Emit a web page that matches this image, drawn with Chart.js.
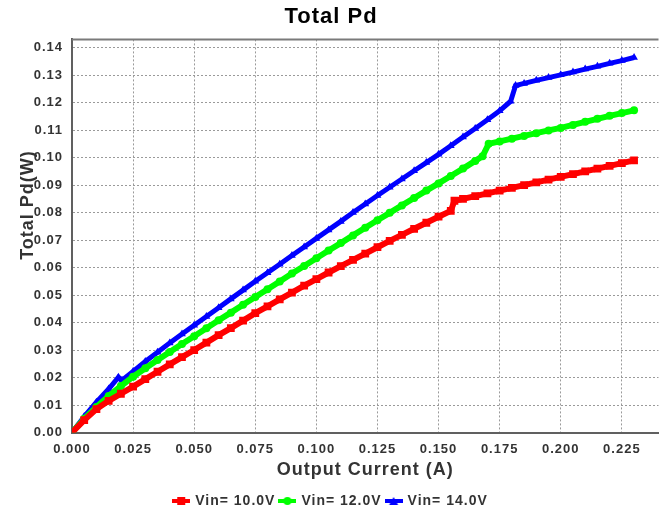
<!DOCTYPE html>
<html>
<head>
<meta charset="utf-8">
<script src="https://cdn.jsdelivr.net/npm/chart.js@4.4.1/dist/chart.umd.min.js"></script>
<style>
  html, body { margin: 0; padding: 0; background: #fff; }
  #wrap { width: 664px; height: 512px; }
</style>
</head>
<body>
<div id="wrap"><canvas id="pd-chart" width="664" height="512"></canvas></div>
<script>
// Output current (A) and total dissipation (W)
const current10 = [0, 0.005, 0.010, 0.015, 0.020, 0.025, 0.030, 0.035, 0.040, 0.045, 0.050, 0.055,
  0.060, 0.065, 0.070, 0.075, 0.080, 0.085, 0.090, 0.095, 0.100, 0.105, 0.110, 0.115, 0.120, 0.125,
  0.130, 0.135, 0.140, 0.145, 0.150, 0.155, 0.1565, 0.160, 0.165, 0.170, 0.175, 0.180, 0.185, 0.190,
  0.195, 0.200, 0.205, 0.210, 0.215, 0.220, 0.225, 0.230];
const pd10 = [0, 0.0045, 0.0085, 0.0115, 0.0141, 0.0167, 0.0194, 0.0221, 0.0248, 0.0274, 0.0300, 0.0327,
  0.0354, 0.0380, 0.0407, 0.0434, 0.0459, 0.0484, 0.0509, 0.0534, 0.0558, 0.0582, 0.0605, 0.0628, 0.0651, 0.0674,
  0.0697, 0.0719, 0.0741, 0.0763, 0.0785, 0.0806, 0.0843, 0.0850, 0.0860, 0.0870, 0.0880, 0.0890, 0.0900, 0.0910,
  0.0920, 0.0930, 0.0940, 0.0950, 0.0960, 0.0970, 0.0980, 0.0990];

const current12 = [0, 0.005, 0.010, 0.015, 0.020, 0.025, 0.030, 0.035, 0.040, 0.045, 0.050, 0.055,
  0.060, 0.065, 0.070, 0.075, 0.080, 0.085, 0.090, 0.095, 0.100, 0.105, 0.110, 0.115, 0.120, 0.125,
  0.130, 0.135, 0.140, 0.145, 0.150, 0.155, 0.160, 0.165, 0.168, 0.1705, 0.175, 0.180, 0.185, 0.190,
  0.195, 0.200, 0.205, 0.210, 0.215, 0.220, 0.225, 0.230];
const pd12 = [0, 0.0050, 0.0093, 0.0133, 0.0169, 0.0203, 0.0234, 0.0264, 0.0293, 0.0322, 0.0350, 0.0379,
  0.0408, 0.0436, 0.0465, 0.0493, 0.0521, 0.0549, 0.0578, 0.0606, 0.0634, 0.0662, 0.0689, 0.0717, 0.0745, 0.0772,
  0.0799, 0.0826, 0.0853, 0.0880, 0.0906, 0.0933, 0.0960, 0.0988, 0.1005, 0.1050, 0.1059, 0.1069, 0.1079, 0.1089,
  0.1099, 0.1108, 0.1119, 0.1130, 0.1141, 0.1152, 0.1162, 0.1172];

const current14 = [0, 0.005, 0.010, 0.015, 0.019, 0.0205, 0.025, 0.030, 0.035, 0.040, 0.045, 0.050, 0.055,
  0.060, 0.065, 0.070, 0.075, 0.080, 0.085, 0.090, 0.095, 0.100, 0.105, 0.110, 0.115, 0.120, 0.125,
  0.130, 0.135, 0.140, 0.145, 0.150, 0.155, 0.160, 0.165, 0.170, 0.175, 0.1795, 0.1815, 0.185, 0.190,
  0.195, 0.200, 0.205, 0.210, 0.215, 0.220, 0.225, 0.230];
const pd14 = [0, 0.0058, 0.0110, 0.0158, 0.0201, 0.0190, 0.0222, 0.0258, 0.0292, 0.0326, 0.0358, 0.0390, 0.0422,
  0.0454, 0.0486, 0.0518, 0.0550, 0.0581, 0.0612, 0.0644, 0.0675, 0.0706, 0.0737, 0.0768, 0.0800, 0.0831, 0.0862,
  0.0892, 0.0922, 0.0952, 0.0982, 0.1012, 0.1043, 0.1075, 0.1106, 0.1138, 0.1170, 0.1205, 0.1262, 0.1270, 0.1281,
  0.1291, 0.1301, 0.1311, 0.1322, 0.1332, 0.1343, 0.1353, 0.1364];

const seriesNames = ['Vin= 10.0V', 'Vin= 12.0V', 'Vin= 14.0V'];

const FONT = '"Liberation Sans", Arial, sans-serif';

const toPoints = (xs, ys) => xs.map((x, i) => ({ x: x, y: ys[i] }));

// small line+marker swatch for the legend
function legendSwatch(color, shape) {
  const c = document.createElement('canvas');
  c.width = 18; c.height = 10;
  const g = c.getContext('2d');
  g.fillStyle = color;
  g.fillRect(0, 3, 18, 4);
  g.beginPath();
  if (shape === 'rect') g.rect(5, 1, 8, 8);
  else if (shape === 'circle') g.arc(9, 5, 4, 0, Math.PI * 2);
  else { g.moveTo(9, 1); g.lineTo(13.5, 9); g.lineTo(4.5, 9); g.closePath(); }
  g.fill();
  return c;
}

const letterSpacing = {
  id: 'letterSpacing',
  beforeUpdate(chart) { chart.ctx.letterSpacing = '1px'; },
  beforeDraw(chart) { chart.ctx.letterSpacing = '1px'; }
};

const topFrame = {
  id: 'topFrame',
  beforeDatasetsDraw(chart) {
    const { ctx, chartArea } = chart;
    ctx.save();
    ctx.strokeStyle = '#7a7a7a';
    ctx.lineWidth = 2;
    ctx.beginPath();
    ctx.moveTo(chartArea.left, chartArea.top);
    ctx.lineTo(chartArea.right, chartArea.top);
    ctx.stroke();
    ctx.restore();
  }
};

// y axis title sits a bit above the middle of the axis in the original
const yTitle = {
  id: 'yTitle',
  afterDraw(chart, args, opts) {
    const { ctx } = chart;
    ctx.save();
    ctx.translate(opts.x, opts.y);
    ctx.rotate(-Math.PI / 2);
    ctx.font = 'bold 18px ' + FONT;
    ctx.fillStyle = '#333';
    ctx.textAlign = 'center';
    ctx.textBaseline = 'middle';
    ctx.letterSpacing = '1px';
    ctx.fillText(opts.text, 0, 0);
    ctx.restore();
  }
};

const swatches = [
  legendSwatch('#ff0000', 'rect'),
  legendSwatch('#00ff00', 'circle'),
  legendSwatch('#0000ff', 'triangle')
];

const ctx = document.getElementById('pd-chart').getContext('2d');
new Chart(ctx, {
  type: 'line',
  data: {
    datasets: [
      {
        label: seriesNames[0],
        data: toPoints(current10, pd10),
        borderColor: '#ff0000', backgroundColor: '#ff0000',
        borderWidth: 6, pointStyle: 'rect', pointRadius: 5.5, pointBorderWidth: 0
      },
      {
        label: seriesNames[1],
        data: toPoints(current12, pd12),
        borderColor: '#00ff00', backgroundColor: '#00ff00',
        borderWidth: 6, pointStyle: 'circle', pointRadius: 4, pointBorderWidth: 0
      },
      {
        label: seriesNames[2],
        data: toPoints(current14, pd14),
        borderColor: '#0000ff', backgroundColor: '#0000ff',
        borderWidth: 5, pointStyle: 'triangle', pointRadius: 4.5, pointBorderWidth: 0
      }
    ]
  },
  options: {
    responsive: false,
    animation: false,
    layout: { padding: { left: 0, right: 2, top: 0, bottom: -6 } },
    plugins: {
      title: {
        display: true,
        text: 'Total Pd',
        color: '#000',
        font: { family: FONT, size: 22, weight: 'bold' },
        padding: { top: 4, bottom: 9 }
      },
      legend: {
        position: 'bottom',
        labels: {
          usePointStyle: true,
          pointStyleWidth: 14,
          boxHeight: 10,
          padding: 5,
          color: '#333',
          font: { family: FONT, size: 14, weight: 'bold' },
          generateLabels(chart) {
            const items = Chart.defaults.plugins.legend.labels.generateLabels(chart);
            items.forEach((it, i) => { it.pointStyle = swatches[i]; });
            return items;
          }
        }
      },
      yTitle: { text: 'Total Pd(W)', x: 28, y: 205 },
      tooltip: { enabled: false }
    },
    scales: {
      x: {
        type: 'linear',
        min: 0,
        max: 0.24,
        afterFit(scale) { scale.height = 56.5; },
        ticks: {
          stepSize: 0.025,
          includeBounds: false,
          maxRotation: 0,
          autoSkip: false,
          padding: 9,
          color: '#333',
          font: { family: FONT, size: 13, weight: 'bold' },
          callback: (v) => v.toFixed(3)
        },
        grid: { color: '#9a9a9a', lineWidth: 1, drawTicks: false },
        border: { color: '#606060', width: 2, dash: [2, 2] },
        title: {
          display: true,
          text: 'Output Current (A)',
          color: '#333',
          font: { family: FONT, size: 18, weight: 'bold' },
          padding: { top: 0, bottom: 8 }
        }
      },
      y: {
        min: 0,
        max: 0.143,
        afterFit(scale) { scale.width = 72; },
        ticks: {
          stepSize: 0.01,
          includeBounds: false,
          padding: 9,
          color: '#333',
          font: { family: FONT, size: 13, weight: 'bold' },
          callback: (v) => v.toFixed(2)
        },
        grid: { color: '#9a9a9a', lineWidth: 1, drawTicks: false },
        border: { color: '#606060', width: 2, dash: [2, 2] }
      }
    }
  },
  plugins: [letterSpacing, topFrame, yTitle]
});
</script>
</body>
</html>
